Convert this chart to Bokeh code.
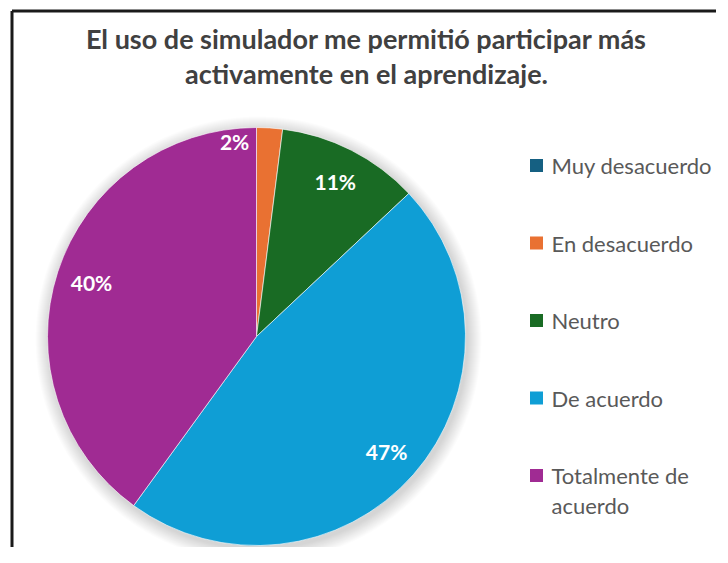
import math
import textwrap
from bokeh.plotting import figure
from bokeh.models import Range1d, ColumnDataSource
from bokeh.core.properties import value
from bokeh.embed import file_html
from bokeh.resources import INLINE

# ---- data ----
title_lines = ["El uso de simulador me permitió participar más",
               "activamente en el aprendizaje."]
categories = ["Muy desacuerdo", "En desacuerdo", "Neutro", "De acuerdo",
              "Totalmente de acuerdo"]
percent = [0, 2, 11, 47, 40]
colors = ["#156082", "#E97132", "#196B24", "#0F9ED5", "#A02B93"]

# ---- layout (image pixel coordinates -> data coordinates) ----
W, H = 716, 547
PAGE_H = 563


def Y(py):
    return PAGE_H - py


p = figure(width=W, height=H, output_backend="svg", toolbar_location=None,
           x_range=Range1d(0, W), y_range=Range1d(PAGE_H - H, PAGE_H),
           min_border=0, outline_line_color=None, background_fill_color="white",
           border_fill_color="white")
p.axis.visible = False
p.grid.visible = False

cx, cy, R = 256, Y(336), 209

# soft shadow
for k in range(14):
    p.circle(x=cx + 2, y=cy - 3, radius=R + 14 - k, fill_color="#000000",
             fill_alpha=0.012, line_color=None)

# wedges
total = sum(percent)
start = []
end = []
mids = []
cum = 0.0
for v in percent:
    a0 = math.pi / 2 - 2 * math.pi * cum / total
    cum += v
    a1 = math.pi / 2 - 2 * math.pi * cum / total
    start.append(a0)
    end.append(a1)
    mids.append((a0 + a1) / 2)

idx = [i for i, v in enumerate(percent) if v > 0]
src = ColumnDataSource(dict(
    start=[start[i] for i in idx], end=[end[i] for i in idx],
    color=[colors[i] for i in idx]))
p.wedge(x=cx, y=cy, radius=R, start_angle="start", end_angle="end",
        direction="clock", fill_color="color", line_color="white",
        line_width=0.6, source=src)

# data labels
lx, ly, lt = [], [], []
for i in idx:
    ang = mids[i]
    r = 0.83 * R
    if percent[i] < 5:
        ang = mids[i] + math.radians(10)
        r = 0.94 * R
    lx.append(cx + r * math.cos(ang))
    ly.append(cy + r * math.sin(ang))
    lt.append(f"{percent[i]}%")
p.text(x=lx, y=ly, text=lt, text_color="white", text_font=value("Lato"),
       text_font_style="bold", text_font_size="21px", text_align="center",
       text_baseline="middle")

# title
p.text(x=[366, 366], y=[Y(38), Y(73)], text=title_lines, text_color="#404040",
       text_font=value("Lato"), text_font_style="bold", text_font_size="27px",
       text_align="center", text_baseline="middle")

# legend
sq_x, tx_x = 536, 551
for i, cat in enumerate(categories):
    py = 165 + i * 77.5
    p.scatter(x=[sq_x], y=[Y(py)], marker="square", size=13,
              fill_color=colors[i], line_color=None)
    for j, line in enumerate(textwrap.wrap(cat, 14)):
        p.text(x=[tx_x], y=[Y(py + j * 30)], text=[line], text_color="#595959",
               text_font=value("Lato"), text_font_size="22px",
               text_align="left", text_baseline="middle")

# frame borders (top and left)
p.line(x=[11.5, W], y=[Y(10.5), Y(10.5)], line_color="#1a1a1a", line_width=3)
p.line(x=[11.5, 11.5], y=[Y(10.5), PAGE_H - H], line_color="#1a1a1a", line_width=3)

open("out.html", "w").write(file_html(p, INLINE))
